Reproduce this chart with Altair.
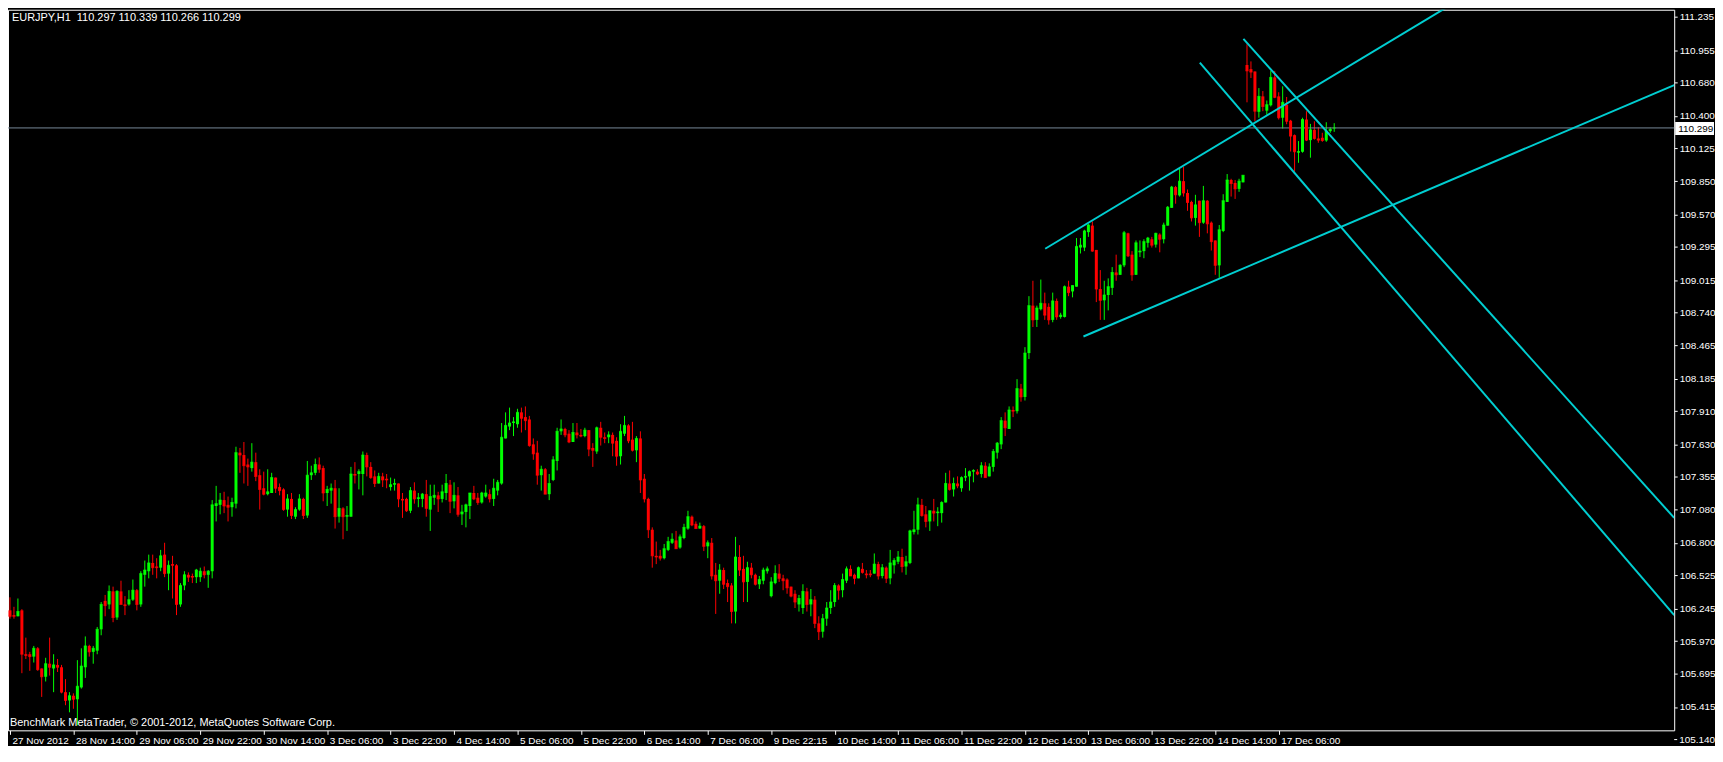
import json
import altair as alt
import pandas as pd

# ---------------- data (EURJPY H1) ----------------
opens = [
    106.23,106.19,106.18,106.23,105.86,105.86,105.84,105.91,105.74,105.67,
    105.78,105.74,105.77,105.75,105.54,105.47,105.51,105.48,105.58,105.75,
    105.93,105.88,105.89,106.07,106.31,106.28,106.39,106.17,106.39,106.28,
    106.28,106.32,106.40,106.28,106.53,106.56,106.63,106.60,106.59,106.70,
    106.54,106.62,106.61,106.28,106.44,106.53,106.52,106.51,106.51,106.56,
    106.53,106.56,107.11,107.12,107.16,107.12,107.10,107.13,107.56,107.54,
    107.46,107.43,107.48,107.37,107.26,107.21,107.22,107.35,107.27,107.25,
    107.08,107.17,107.02,107.08,107.17,107.03,107.37,107.39,107.46,107.43,
    107.22,107.24,107.26,107.02,107.09,107.02,107.02,107.38,107.38,107.38,
    107.54,107.44,107.36,107.30,107.36,107.34,107.27,107.29,107.30,107.17,
    107.17,107.07,107.24,107.17,107.17,107.21,107.08,107.18,107.20,107.17,
    107.22,107.29,107.15,107.20,107.04,107.06,107.11,107.22,107.18,107.14,
    107.19,107.21,107.17,107.24,107.30,107.68,107.78,107.81,107.80,107.90,
    107.86,107.84,107.63,107.56,107.37,107.42,107.21,107.33,107.49,107.74,
    107.76,107.72,107.65,107.73,107.71,107.70,107.75,107.60,107.57,107.77,
    107.69,107.69,107.71,107.66,107.53,107.72,107.79,107.67,107.58,107.68,
    107.34,107.17,106.91,106.69,106.69,106.67,106.74,106.80,106.82,106.76,
    106.84,106.92,107.02,106.96,106.92,106.94,106.77,106.80,106.53,106.48,
    106.57,106.46,106.44,106.22,106.68,106.58,106.47,106.59,106.53,106.45,
    106.48,106.56,106.35,106.46,106.54,106.50,106.49,106.43,106.37,106.28,
    106.25,106.39,106.28,106.32,106.12,106.05,106.16,106.25,106.30,106.44,
    106.40,106.48,106.58,106.53,106.50,106.58,106.54,106.54,106.54,106.62,
    106.52,106.59,106.50,106.61,106.64,106.68,106.60,106.63,106.89,106.91,
    107.12,107.04,106.98,107.07,107.05,107.05,107.14,107.30,107.25,107.30,
    107.26,107.35,107.36,107.40,107.40,107.38,107.45,107.36,107.44,107.56,
    107.63,107.83,107.76,107.92,107.91,108.10,108.03,108.40,108.80,108.68,
    108.77,108.82,108.79,108.68,108.84,108.705,108.705,108.96,108.92,108.96,
    109.29,109.29,109.42,109.475,109.27,108.94,108.845,108.89,108.95,109.08,
    109.06,109.14,109.41,109.23,109.06,109.25,109.26,109.33,109.36,109.315,
    109.40,109.36,109.475,109.625,109.80,109.73,109.85,109.75,109.675,109.54,
    109.685,109.50,109.685,109.50,109.35,109.14,109.43,109.675,109.86,109.835,
    109.785,109.84,110.83,110.795,110.775,110.435,110.565,110.445,110.49,110.725,
    110.565,110.385,110.495,110.36,110.238,110.09,110.098,110.37,110.196,110.283,
    110.21,110.216,110.193,110.272,110.297,
]
highs = [
    106.34,106.26,106.33,106.24,106.00,105.88,105.93,105.92,105.74,105.83,
    106.00,105.86,105.82,105.77,105.65,105.54,105.53,105.81,105.91,106.01,
    105.94,105.93,106.09,106.30,106.36,106.44,106.43,106.40,106.48,106.35,
    106.40,106.49,106.41,106.56,106.65,106.70,106.70,106.67,106.74,106.80,
    106.65,106.69,106.62,106.46,106.56,106.55,106.54,106.58,106.59,106.60,
    106.57,107.16,107.28,107.22,107.23,107.19,107.18,107.61,107.60,107.65,
    107.51,107.64,107.56,107.42,107.40,107.42,107.39,107.35,107.30,107.26,
    107.21,107.22,107.10,107.21,107.18,107.49,107.45,107.51,107.52,107.45,
    107.28,107.30,107.33,107.26,107.10,107.11,107.44,107.48,107.42,107.57,
    107.56,107.48,107.41,107.39,107.39,107.38,107.35,107.34,107.30,107.22,
    107.18,107.27,107.31,107.22,107.22,107.33,107.29,107.29,107.23,107.29,
    107.38,107.33,107.31,107.27,107.12,107.13,107.22,107.28,107.22,107.23,
    107.29,107.25,107.34,107.33,107.81,107.90,107.94,107.86,107.93,107.94,
    107.95,107.87,107.68,107.66,107.45,107.43,107.38,107.53,107.77,107.84,
    107.77,107.75,107.81,107.81,107.76,107.77,107.75,107.64,107.78,107.82,
    107.73,107.74,107.73,107.69,107.80,107.87,107.80,107.82,107.70,107.74,
    107.38,107.18,106.93,106.81,106.74,106.79,106.85,106.88,106.90,106.87,
    106.96,107.07,107.03,106.98,106.97,106.95,106.82,106.84,106.63,106.62,
    106.59,106.49,106.46,106.85,106.78,106.69,106.64,106.63,106.54,106.52,
    106.59,106.60,106.51,106.61,106.62,106.53,106.50,106.43,106.40,106.36,
    106.45,106.42,106.41,106.35,106.18,106.20,106.30,106.40,106.46,106.45,
    106.54,106.60,106.61,106.54,106.60,106.63,106.57,106.57,106.71,106.64,
    106.62,106.60,106.74,106.67,106.73,106.75,106.69,106.91,107.07,107.18,
    107.17,107.11,107.07,107.17,107.10,107.15,107.39,107.41,107.35,107.36,
    107.36,107.43,107.41,107.42,107.42,107.48,107.48,107.47,107.59,107.65,
    107.86,107.90,107.95,107.95,108.18,108.14,108.45,108.88,109.01,108.80,
    109.02,108.91,108.82,108.91,108.86,108.74,108.97,109.01,108.97,109.37,
    109.37,109.44,109.49,109.51,109.27,109.10,109.01,109.03,109.125,109.23,
    109.15,109.43,109.415,109.26,109.35,109.35,109.36,109.38,109.38,109.415,
    109.41,109.50,109.64,109.81,109.81,109.96,109.97,109.78,109.685,109.735,
    109.685,109.81,109.69,109.51,109.35,109.48,109.74,109.91,109.87,109.86,
    109.87,109.90,111.005,110.86,110.775,110.635,110.61,110.53,110.78,110.78,
    110.60,110.65,110.56,110.367,110.244,110.188,110.385,110.44,110.333,110.355,
    110.305,110.258,110.347,110.305,110.339,
]
lows = [
    106.16,106.16,106.18,105.70,105.82,105.72,105.79,105.72,105.50,105.63,
    105.68,105.54,105.71,105.53,105.43,105.37,105.40,105.26,105.57,105.66,
    105.84,105.78,105.86,106.02,106.18,106.24,106.13,106.15,106.28,106.19,
    106.27,106.31,106.23,106.26,106.43,106.50,106.53,106.50,106.56,106.51,
    106.40,106.33,106.19,106.26,106.40,106.47,106.46,106.46,106.47,106.50,
    106.42,106.50,106.98,107.04,107.05,106.98,107.02,107.09,107.39,107.30,
    107.28,107.40,107.32,107.08,107.20,107.20,107.22,107.22,107.20,107.07,
    107.02,107.00,107.00,107.07,107.00,107.01,107.33,107.37,107.39,107.15,
    107.11,107.13,106.92,106.97,106.83,106.90,107.02,107.30,107.25,107.20,
    107.36,107.34,107.27,107.30,107.27,107.26,107.24,107.24,107.10,107.01,
    107.06,107.05,107.13,107.10,107.10,107.02,106.90,107.12,107.06,107.14,
    107.16,107.05,107.09,107.02,106.95,106.93,107.00,107.16,107.12,107.13,
    107.18,107.14,107.11,107.20,107.29,107.68,107.75,107.70,107.77,107.73,
    107.75,107.61,107.50,107.29,107.24,107.21,107.16,107.32,107.41,107.71,
    107.69,107.64,107.65,107.68,107.69,107.69,107.53,107.44,107.55,107.62,
    107.64,107.64,107.53,107.45,107.46,107.70,107.64,107.57,107.48,107.22,
    107.14,106.84,106.59,106.62,106.65,106.66,106.73,106.79,106.75,106.75,
    106.83,106.91,106.94,106.92,106.92,106.73,106.67,106.49,106.20,106.37,
    106.41,106.30,106.12,106.12,106.52,106.30,106.30,106.50,106.44,106.41,
    106.45,106.54,106.34,106.45,106.47,106.40,106.37,106.34,106.25,106.22,
    106.20,106.22,106.18,106.08,105.98,106.00,106.10,106.20,106.26,106.32,
    106.34,106.46,106.52,106.45,106.50,106.54,106.50,106.51,106.54,106.49,
    106.50,106.46,106.45,106.54,106.62,106.55,106.53,106.62,106.87,106.87,
    107.02,106.93,106.90,106.98,106.94,106.97,107.14,107.24,107.19,107.26,
    107.23,107.32,107.24,107.31,107.37,107.35,107.35,107.36,107.40,107.51,
    107.59,107.70,107.76,107.86,107.89,107.99,108.00,108.35,108.62,108.62,
    108.76,108.68,108.64,108.66,108.68,108.69,108.70,108.88,108.87,108.96,
    109.24,109.26,109.38,109.255,108.83,108.68,108.68,108.76,108.89,109.01,
    109.06,109.125,109.21,109.01,109.06,109.21,109.20,109.29,109.29,109.29,
    109.25,109.325,109.475,109.625,109.66,109.72,109.72,109.60,109.51,109.475,
    109.38,109.49,109.41,109.265,109.06,109.035,109.42,109.675,109.72,109.70,
    109.76,109.84,110.515,110.72,110.355,110.385,110.44,110.41,110.48,110.55,
    110.37,110.294,110.33,110.10,109.93,110.005,110.09,110.188,110.048,110.20,
    110.174,110.182,110.182,110.258,110.266,
]
closes = [
    106.18,106.18,106.22,105.86,105.85,105.84,105.91,105.73,105.67,105.78,
    105.75,105.77,105.75,105.54,105.47,105.51,105.48,105.59,105.76,105.93,
    105.88,105.91,106.07,106.28,106.27,106.39,106.17,106.39,106.28,106.27,
    106.32,106.40,106.28,106.54,106.57,106.63,106.59,106.59,106.69,106.54,
    106.61,106.61,106.28,106.44,106.53,106.51,106.51,106.57,106.56,106.53,
    106.56,107.12,107.13,107.16,107.11,107.10,107.14,107.56,107.54,107.45,
    107.44,107.48,107.36,107.25,107.21,107.23,107.35,107.26,107.24,107.08,
    107.17,107.03,107.08,107.17,107.03,107.37,107.39,107.46,107.42,107.22,
    107.25,107.26,107.02,107.09,107.02,107.03,107.38,107.37,107.40,107.54,
    107.44,107.35,107.30,107.36,107.33,107.33,107.29,107.30,107.17,107.16,
    107.07,107.24,107.17,107.18,107.21,107.09,107.19,107.20,107.17,107.23,
    107.30,107.15,107.20,107.04,107.06,107.12,107.22,107.17,107.14,107.22,
    107.22,107.17,107.26,107.31,107.69,107.79,107.81,107.82,107.90,107.85,
    107.83,107.62,107.55,107.37,107.42,107.21,107.30,107.50,107.74,107.76,
    107.71,107.65,107.73,107.71,107.70,107.75,107.59,107.58,107.77,107.69,
    107.68,107.71,107.64,107.53,107.74,107.79,107.66,107.58,107.68,107.33,
    107.17,106.91,106.69,106.68,106.67,106.75,106.81,106.83,106.75,106.85,
    106.93,107.02,106.95,106.92,106.94,106.77,106.80,106.52,106.48,106.57,
    106.45,106.43,106.22,106.68,106.57,106.47,106.59,106.53,106.45,106.49,
    106.57,106.58,106.47,106.54,106.50,106.48,106.42,106.35,106.30,106.33,
    106.39,106.28,106.32,106.12,106.05,106.16,106.25,106.30,106.44,106.40,
    106.49,106.58,106.52,106.50,106.59,106.55,106.53,106.53,106.62,106.52,
    106.59,106.50,106.63,106.65,106.68,106.60,106.64,106.90,106.91,107.12,
    107.03,106.98,107.07,107.05,107.06,107.14,107.30,107.25,107.30,107.28,
    107.35,107.36,107.40,107.41,107.38,107.45,107.35,107.44,107.57,107.64,
    107.83,107.77,107.92,107.91,108.10,108.03,108.40,108.80,108.68,108.78,
    108.82,108.72,108.68,108.84,108.705,108.72,108.96,108.91,108.97,109.30,
    109.31,109.43,109.48,109.26,108.94,108.845,108.89,108.96,109.08,109.06,
    109.14,109.415,109.22,109.06,109.33,109.26,109.34,109.37,109.31,109.41,
    109.36,109.48,109.63,109.80,109.735,109.85,109.75,109.67,109.54,109.65,
    109.50,109.685,109.49,109.34,109.14,109.44,109.685,109.86,109.83,109.785,
    109.85,109.90,110.78,110.77,110.44,110.565,110.48,110.495,110.725,110.557,
    110.385,110.515,110.355,110.23,110.098,110.10,110.37,110.196,110.283,110.21,
    110.196,110.193,110.272,110.288,110.299,
]

x_tick_bars = [0, 16, 32, 48, 64, 80, 96, 112, 128, 144, 160, 176, 192, 208,
               224, 240, 256, 272, 288, 304, 320]
x_tick_labels = ["27 Nov 2012", "28 Nov 14:00", "29 Nov 06:00", "29 Nov 22:00",
                 "30 Nov 14:00", "3 Dec 06:00", "3 Dec 22:00", "4 Dec 14:00",
                 "5 Dec 06:00", "5 Dec 22:00", "6 Dec 14:00", "7 Dec 06:00",
                 "9 Dec 22:15", "10 Dec 14:00", "11 Dec 06:00", "11 Dec 22:00",
                 "12 Dec 14:00", "13 Dec 06:00", "13 Dec 22:00", "14 Dec 14:00",
                 "17 Dec 06:00"]
y_ticks = [111.235, 110.955, 110.680, 110.400, 110.125, 109.850, 109.570,
           109.295, 109.015, 108.740, 108.465, 108.185, 107.910, 107.630,
           107.355, 107.080, 106.800, 106.525, 106.245, 105.970, 105.695,
           105.415]
y_tick_below = [105.140]   # lowest price label, sits just under the frame

# trend lines: (bar index, price) of start and end anchors
line_names = ["upper channel", "lower channel", "down line 1", "down line 2"]
line_bar1 = [261.1, 270.75, 311.1, 300.1]
line_price1 = [109.28, 108.54, 111.05, 110.85]
line_bar2 = [419.75, 419.75, 419.75, 419.75]
line_price2 = [112.47, 110.66, 107.01, 106.19]

bid_price = 110.299
bid_label = "110.299"
header_text = "EURJPY,H1\u00a0\u00a0110.297 110.339 110.266 110.299"
footer_text = "BenchMark MetaTrader, \u00a9 2001-2012, MetaQuotes Software Corp."

# ---------------- frames ----------------
n = min(len(opens), len(highs), len(lows), len(closes))
candles = pd.DataFrame({
    "bar": list(range(n)),
    "open": opens[:n],
    "high": highs[:n],
    "low": lows[:n],
    "close": closes[:n],
})
candles["dir"] = ["up" if c >= o else "down" for o, c in zip(candles["open"], candles["close"])]

lines_rows = []
for nm, b1, p1, b2, p2 in zip(line_names, line_bar1, line_price1, line_bar2, line_price2):
    lines_rows.append({"name": nm, "bar": b1, "price": p1})
    lines_rows.append({"name": nm, "bar": b2, "price": p2})
lines_df = pd.DataFrame(lines_rows)

bid_df = pd.DataFrame({"price": [bid_price], "label": [bid_label]})
low_tick_df = pd.DataFrame({"price": y_tick_below,
                            "label": [f"{v:.3f}" for v in y_tick_below]})

# ---------------- chart ----------------
W, H = 1674, 724
FONT = "Liberation Sans"
UP, DOWN = "#00FF00", "#FF0000"
TREND = "#00CED1"

xs = alt.Scale(domain=[-0.5, 419.75], nice=False, zero=False, padding=0)
ys = alt.Scale(domain=[105.218, 111.296], nice=False, zero=False, padding=0)
col = alt.Color("dir:N", scale=alt.Scale(domain=["up", "down"], range=[UP, DOWN]), legend=None)

label_expr = f"{json.dumps(x_tick_labels)}[indexof({json.dumps(x_tick_bars)}, datum.value)]"

x_axis = alt.Axis(values=x_tick_bars, labelExpr=label_expr, orient="bottom", domain=False,
                  grid=False, ticks=True, tickColor="white", tickSize=4, labelColor="white",
                  labelFont=FONT, labelFontSize=10, labelAlign="left", labelBaseline="top",
                  labelPadding=1, labelOffset=2, labelOverlap=False, labelFlush=False,
                  labelBound=False, title=None)
y_axis = alt.Axis(values=y_ticks, format=".3f", orient="right", domain=False, grid=False,
                  ticks=True, tickColor="white", tickSize=3, labelColor="white",
                  labelFont=FONT, labelFontSize=10, labelPadding=2, labelOverlap=False,
                  labelFlush=False, labelBound=False, title=None)


def X(field):
    return alt.X(field, scale=xs, axis=x_axis)


def Y(field):
    return alt.Y(field, scale=ys, axis=y_axis)


base = alt.Chart(candles)
wicks = base.mark_rule(strokeWidth=1).encode(
    x=X("bar:Q"), y=Y("low:Q"), y2="high:Q", color=col,
)
bodies = base.mark_bar(size=3).encode(
    x=X("bar:Q"), y=Y("open:Q"), y2="close:Q", color=col,
)
dojis = base.mark_tick(orient="horizontal", size=3, thickness=1).encode(
    x=X("bar:Q"), y=Y("close:Q"), color=col,
)

bid_line = alt.Chart(bid_df).mark_rule(color="#778899", strokeWidth=1).encode(
    y=Y("price:Q")
)

trend = alt.Chart(lines_df).mark_line(color=TREND, strokeWidth=2, clip=True).encode(
    x=X("bar:Q"), y=Y("price:Q"), detail="name:N",
)

box = alt.Chart(bid_df).mark_rect(color="white", yOffset=-6, y2Offset=7).encode(
    x=alt.value(W + 1),
    x2=alt.value(W + 40),
    y=Y("price:Q"),
    y2="price:Q",
)
box_text = alt.Chart(bid_df).mark_text(align="left", baseline="middle", color="black",
                                       font=FONT, fontSize=10, dy=1).encode(
    x=alt.value(W + 4),
    y=Y("price:Q"),
    text="label:N",
)

low_tick = alt.Chart(low_tick_df).mark_rule(color="white", strokeWidth=1).encode(
    x=alt.value(W), x2=alt.value(W + 3), y=Y("price:Q"),
)
low_label = alt.Chart(low_tick_df).mark_text(align="left", baseline="middle", color="white",
                                             font=FONT, fontSize=10).encode(
    x=alt.value(W + 5), y=Y("price:Q"), text="label:N",
)

header = alt.Chart(pd.DataFrame({"t": [header_text]})).mark_text(
    align="left", baseline="top", color="white", font=FONT, fontSize=11
).encode(x=alt.value(4), y=alt.value(2), text="t:N")

footer = alt.Chart(pd.DataFrame({"t": [footer_text]})).mark_text(
    align="left", baseline="middle", color="white", font=FONT, fontSize=11
).encode(x=alt.value(2), y=alt.value(H - 7), text="t:N")

chart = alt.layer(
    wicks, bid_line, bodies, dojis, trend, box, box_text, low_tick, low_label, header, footer
).properties(
    width=W,
    height=H,
    padding={"left": 0, "top": 0, "right": 41, "bottom": 14},
    autosize=alt.AutoSizeParams(type="none"),
    background="black",
).configure_view(stroke="white", strokeWidth=1)

chart.save("out.html", embed_options={"renderer": "svg", "actions": False})
